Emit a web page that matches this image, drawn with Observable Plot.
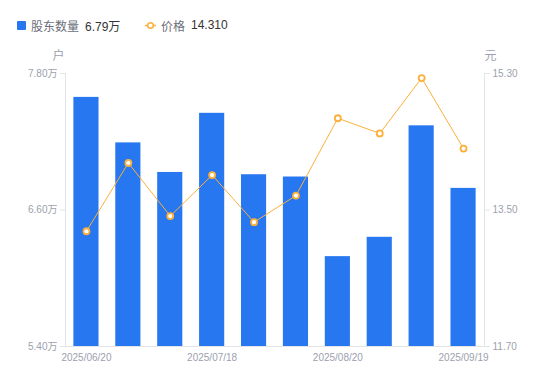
<!DOCTYPE html>
<html>
<head>
<meta charset="utf-8">
<script src="https://cdn.jsdelivr.net/npm/d3@7"></script>
<script src="https://cdn.jsdelivr.net/npm/@observablehq/plot@0.6"></script>
<style>
  body { margin: 0; background: #fff; font-family: "Liberation Sans", "Noto Sans CJK SC", sans-serif; }
  #wrap { position: relative; width: 550px; height: 381px; }
  #legend { position: absolute; left: 0; top: 15px; height: 20px; font-size: 12px; display: flex; align-items: center; }
  .item { display: flex; align-items: center; position: absolute; white-space: nowrap; }
  .name { color: #6b6e7a; }
  .val { color: #333; margin-left: 6px; }
</style>
</head>
<body>
<div id="wrap">
  <div id="legend"></div>
  <div id="chart"></div>
</div>
<script>
const dates = ["2025/06/20","2025/06/30","2025/07/10","2025/07/18","2025/07/31","2025/08/10","2025/08/20","2025/08/29","2025/09/10","2025/09/19"];
const holders = [7.59, 7.19, 6.93, 7.45, 6.91, 6.89, 6.19, 6.36, 7.34, 6.79];
const prices = [13.22, 14.12, 13.42, 13.96, 13.34, 13.69, 14.71, 14.51, 15.24, 14.31];
const shownDates = ["2025/06/20","2025/07/18","2025/08/20","2025/09/19"];
const leftTicks = [5.40, 6.60, 7.80];
const rightTicks = [11.70, 13.50, 15.30];

const barColor = "#2777f0";
const lineColor = "#fbb03b";
const axisColor = "#e3e4e8";
const labelColor = "#9c9fae";

const yMin = 5.40, yMax = 7.80, pMin = 11.70, pMax = 15.30;
const toY = p => yMin + (p - pMin) * (yMax - yMin) / (pMax - pMin);
const fromY = y => pMin + (y - yMin) * (pMax - pMin) / (yMax - yMin);

const data = dates.map((d, i) => ({date: d, holders: holders[i], price: prices[i], py: toY(prices[i])}));

// legend
const legend = document.getElementById("legend");
legend.innerHTML = `
  <div class="item" style="left:17px">
    <span style="display:inline-block;width:9px;height:9px;background:${barColor};border-radius:1px;margin-right:5px"></span>
    <span class="name">股东数量</span><span class="val">${holders[holders.length-1].toFixed(2)}万</span>
  </div>
  <div class="item" style="left:145px">
    <svg width="11" height="9" style="margin-right:5px"><line x1="0" y1="4.5" x2="11" y2="4.5" stroke="${lineColor}" stroke-width="1.5"/><circle cx="5.5" cy="4.5" r="2.8" fill="#fff" stroke="${lineColor}" stroke-width="1.5"/></svg>
    <span class="name">价格</span><span class="val">${prices[prices.length-1].toFixed(3)}</span>
  </div>`;

const chart = Plot.plot({
  width: 550,
  height: 381,
  marginLeft: 65,
  marginRight: 66,
  marginTop: 73,
  marginBottom: 35,
  style: {fontFamily: '"Liberation Sans", "Noto Sans CJK SC", sans-serif', fontSize: "10px", color: labelColor, background: "transparent"},
  x: {type: "band", domain: dates, paddingInner: 0.4, paddingOuter: 0.2, round: false},
  y: {domain: [yMin, yMax]},
  marks: [
    Plot.barY(data, {x: "date", y1: yMin, y2: "holders", fill: barColor}),
    Plot.frame({anchor: "left", stroke: axisColor}),
    Plot.frame({anchor: "right", stroke: axisColor}),
    Plot.frame({anchor: "bottom", stroke: axisColor}),
    Plot.line(data, {x: "date", y: "py", stroke: lineColor, strokeWidth: 1}),
    Plot.dot(data, {x: "date", y: "py", r: 3, fill: "#fff", stroke: lineColor, strokeWidth: 1.8}),
    Plot.axisY({anchor: "left", ticks: leftTicks, tickFormat: d => d.toFixed(2) + "万", tickSize: 5, tickPadding: 3, stroke: axisColor, fill: labelColor, label: null}),
    Plot.axisY({anchor: "right", ticks: rightTicks.map(toY), tickFormat: d => fromY(d).toFixed(2), tickSize: 5, tickPadding: 3, stroke: axisColor, fill: labelColor, label: null}),
    Plot.axisX({ticks: shownDates, tickSize: 0, tickPadding: 7, fill: labelColor, label: null}),
    Plot.text(["户"], {frameAnchor: "top-left", textAnchor: "middle", dx: -7, dy: -22, fill: labelColor, fontSize: 12}),
    Plot.text(["元"], {frameAnchor: "top-right", textAnchor: "middle", dx: 6, dy: -22, fill: labelColor, fontSize: 12})
  ]
});
chart.style.position = "absolute";
chart.style.left = "0";
chart.style.top = "0";
document.getElementById("chart").appendChild(chart);
</script>
</body>
</html>
